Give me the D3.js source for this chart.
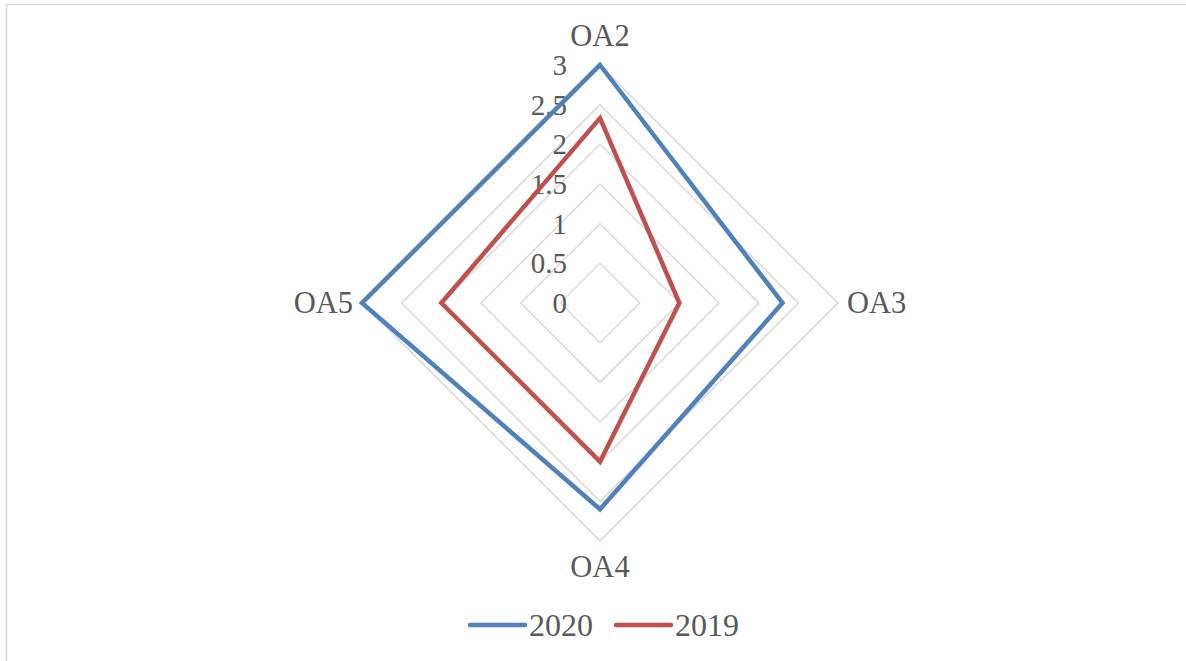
<!DOCTYPE html>
<html><head><meta charset="utf-8">
<script src="https://cdn.jsdelivr.net/npm/d3@7"></script>
<style>body{margin:0;background:#fff}svg{display:block}</style>
</head><body>
<svg id="chart" width="1186" height="661"></svg>
<script>
const categories = ["OA2", "OA3", "OA4", "OA5"];
const series2020 = [3, 2.3, 2.6, 3];
const series2019 = [2.33, 1, 2, 2];
const seriesNames = ["2020", "2019"];
const tickValues = [0, 0.5, 1, 1.5, 2, 2.5, 3];
const colors = ["#4F81BD", "#C0504D"];

const svg = d3.select("#chart");
svg.append("path").attr("d", "M6.5,661V4.5H1186").attr("fill", "none").attr("stroke", "#d9d9d9").attr("stroke-width", 1.5);

const cx = 600, cy = 303;
const r = d3.scaleLinear().domain([0, 3]).range([0, 238]);
const angle = d3.scalePoint().domain(categories).range([0, 2 * Math.PI * (categories.length - 1) / categories.length]);
const pt = (c, v) => [cx + r(v) * Math.sin(angle(c)), cy - r(v) * Math.cos(angle(c))];
const font = "'Liberation Serif','Times New Roman',serif";

// grid
tickValues.filter(t => t > 0).forEach(t => {
  svg.append("path")
    .attr("d", d3.line()(categories.map(c => pt(c, t))) + "Z")
    .attr("fill", "none").attr("stroke", "#d9d9d9").attr("stroke-width", 1.5);
});

// tick labels
svg.selectAll("text.tick").data(tickValues).join("text")
  .attr("class", "tick")
  .attr("x", 567).attr("y", d => cy - r(d))
  .attr("text-anchor", "end").attr("dominant-baseline", "central")
  .attr("font-family", font).attr("font-size", 29).attr("fill", "#595959")
  .text(d => d);

// series
[series2020, series2019].forEach((vals, i) => {
  svg.append("path")
    .attr("d", d3.line()(categories.map((c, j) => pt(c, vals[j]))) + "Z")
    .attr("fill", "none").attr("stroke", colors[i]).attr("stroke-width", 4.5)
    .attr("stroke-linejoin", "miter");
});

// category labels
const labelPos = {
  "OA2": {x: 600, y: 36, anchor: "middle"},
  "OA3": {x: 847, y: 303, anchor: "start"},
  "OA4": {x: 600, y: 567, anchor: "middle"},
  "OA5": {x: 353, y: 303, anchor: "end"}
};
categories.forEach(c => {
  const p = labelPos[c];
  svg.append("text").attr("x", p.x).attr("y", p.y)
    .attr("text-anchor", p.anchor).attr("dominant-baseline", "central")
    .attr("font-family", font).attr("font-size", 30.5).attr("fill", "#595959")
    .text(c);
});

// legend
const legendX = [470, 616];
seriesNames.forEach((n, i) => {
  svg.append("line").attr("x1", legendX[i]).attr("x2", legendX[i] + 55)
    .attr("y1", 625).attr("y2", 625)
    .attr("stroke", colors[i]).attr("stroke-width", 4.5).attr("stroke-linecap", "round");
  svg.append("text").attr("x", legendX[i] + 59).attr("y", 625)
    .attr("dominant-baseline", "central")
    .attr("font-family", font).attr("font-size", 32).attr("fill", "#595959")
    .text(n);
});
</script>
</body></html>
